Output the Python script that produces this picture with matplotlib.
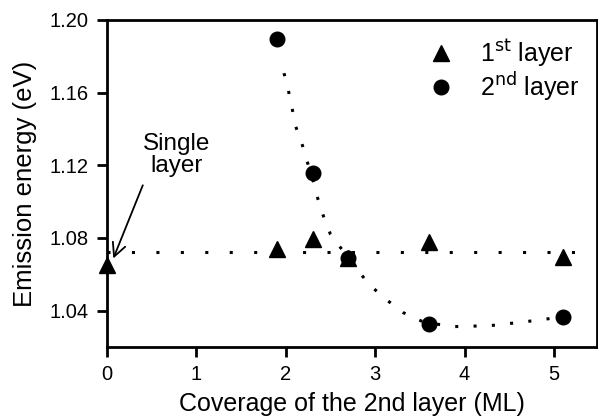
import matplotlib.pyplot as plt

plt.rcParams['font.family'] = ['Liberation Sans', 'DejaVu Sans']

# 1st layer (triangles)
cov_1st = [0.0, 1.9, 2.3, 2.7, 3.6, 5.1]
en_1st = [1.065, 1.074, 1.0795, 1.069, 1.0775, 1.0695]

# 2nd layer (circles)
cov_2nd = [1.9, 2.3, 2.7, 3.6, 5.1]
en_2nd = [1.1895, 1.1155, 1.069, 1.0327, 1.0367]

# dotted guide lines
flat_x = [0.0, 5.3]
flat_y = [1.072, 1.072]
fit_x = [1.98, 2.03, 2.07, 2.11, 2.18, 2.24, 2.30, 2.35, 2.41, 2.50, 2.62, 2.75, 2.92,
         3.10, 3.31, 3.55, 3.89, 4.28, 4.47, 4.87, 5.0]
fit_y = [1.1707, 1.161, 1.1515, 1.1415, 1.132, 1.122, 1.1125, 1.103, 1.0935, 1.082,
         1.0742, 1.066, 1.055, 1.047, 1.039, 1.0335, 1.0312, 1.0317, 1.0327, 1.035, 1.036]

fig = plt.figure(figsize=(5.98, 4.16), dpi=100)
ax = fig.add_axes([0.179, 0.166, 0.819, 0.786])

ax.plot(flat_x, flat_y, color='black', lw=2.2, linestyle=(0, (1, 7)), zorder=1)
ax.plot(fit_x, fit_y, color='black', lw=2.2, linestyle=(0, (1, 5)), zorder=1)

ax.plot(cov_1st, en_1st, '^', color='black', ms=11, linestyle='none',
        label='1$^{\\mathrm{st}}$ layer', zorder=3, clip_on=False)
ax.plot(cov_2nd, en_2nd, 'o', color='black', ms=10.5, linestyle='none',
        label='2$^{\\mathrm{nd}}$ layer', zorder=3)

# "Single layer" note with an open arrow
ax.text(0.78, 1.1255, 'Single\nlayer', ha='center', va='center',
        fontsize=17.5, linespacing=1.0)
ax.annotate('', xy=(0.07, 1.0687), xytext=(0.40, 1.109),
            arrowprops=dict(arrowstyle='->', color='black', lw=1.3,
                            shrinkA=0, shrinkB=0, mutation_scale=24))

ax.set_xlim(0, 5.48)
ax.set_ylim(1.02, 1.20)
ax.set_xticks([0, 1, 2, 3, 4, 5])
ax.set_yticks([1.04, 1.08, 1.12, 1.16, 1.20])
ax.set_yticklabels(['1.04', '1.08', '1.12', '1.16', '1.20'])

for s in ax.spines.values():
    s.set_linewidth(2)
ax.tick_params(direction='out', length=7, width=2, labelsize=14.5, pad=6)

ax.set_xlabel('Coverage of the 2nd layer (ML)', fontsize=18, labelpad=6)
ax.set_ylabel('Emission energy (eV)', fontsize=18.5, labelpad=9)

ax.legend(loc='upper right', bbox_to_anchor=(1.0, 1.0), frameon=False,
          fontsize=18, handletextpad=0.55, labelspacing=0.05, borderaxespad=0.3)

fig.savefig('out.png', dpi=100)
